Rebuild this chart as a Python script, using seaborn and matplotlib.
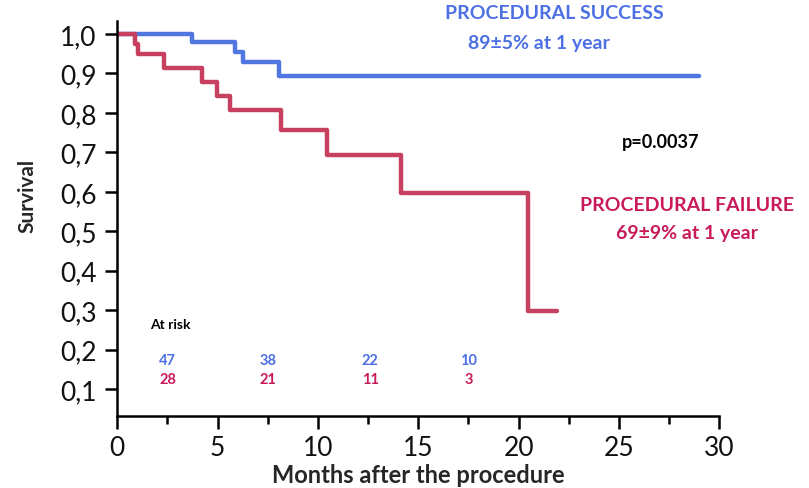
import matplotlib
matplotlib.use("Agg")
import matplotlib.pyplot as plt
import seaborn as sns
import pandas as pd
from matplotlib.ticker import MultipleLocator, FixedLocator

# Kaplan-Meier step curves (time in months, survival probability)
success_t = [0, 3.7, 5.86, 6.28, 8.06, 29.0]
success_s = [1.0, 0.979, 0.954, 0.928, 0.894, 0.894]

failure_t = [0, 0.88, 1.03, 2.35, 4.2, 4.95, 5.62, 8.16, 10.43, 14.13, 20.45, 21.9]
failure_s = [1.0, 0.975, 0.949, 0.915, 0.879, 0.842, 0.807, 0.756, 0.693, 0.596, 0.298, 0.298]

# Numbers at risk
risk_times = [2.5, 7.5, 12.6, 17.5]
risk_success = [47, 38, 22, 10]
risk_failure = [28, 21, 11, 3]

y_ticks = [0.1, 0.2, 0.3, 0.4, 0.5, 0.6, 0.7, 0.8, 0.9, 1.0]
y_tick_labels = ["0,1", "0,2", "0,3", "0,4", "0,5", "0,6", "0,7", "0,8", "0,9", "1,0"]
x_ticks = [0, 5, 10, 15, 20, 25, 30]

BLUE_LINE = "#5077e0"
BLUE_TEXT = "#4c70e4"
RED_LINE = "#c8405f"
RED_TEXT = "#c81a5a"

sns.set_theme(style="ticks")
plt.rcParams["font.family"] = ["Lato", "DejaVu Sans"]

df = pd.concat([
    pd.DataFrame({"month": success_t, "survival": success_s, "group": "success"}),
    pd.DataFrame({"month": failure_t, "survival": failure_s, "group": "failure"}),
])

fig = plt.figure(figsize=(8.09, 4.89), dpi=100)
ax = fig.add_axes([0.145, 0.148, 0.744, 0.807])

sns.lineplot(data=df, x="month", y="survival", hue="group",
             palette={"success": BLUE_LINE, "failure": RED_LINE},
             drawstyle="steps-post", estimator=None, linewidth=3.2,
             legend=False, ax=ax)

ax.set_xlim(0, 30)
ax.set_ylim(0.033, 1.033)
ax.xaxis.set_major_locator(FixedLocator(x_ticks))
ax.xaxis.set_minor_locator(MultipleLocator(2.5))
ax.set_yticks(y_ticks)
ax.set_yticklabels(y_tick_labels)

for side in ("top", "right"):
    ax.spines[side].set_visible(False)
for side in ("left", "bottom"):
    ax.spines[side].set_linewidth(1.8)
    ax.spines[side].set_color("black")

ax.tick_params(axis="both", which="major", length=9, width=1.8, color="black",
               labelsize=19, labelcolor="#111111")
ax.tick_params(axis="x", which="minor", length=6, width=1.8, color="black")
ax.tick_params(axis="x", pad=5)
ax.tick_params(axis="y", pad=6)

ax.set_xlabel("Months after the procedure", fontsize=17, fontweight="bold", labelpad=2)
ax.set_ylabel("Survival", fontsize=15, fontweight="bold", labelpad=14)
ax.yaxis.set_label_coords(-0.132, 0.56)

# Group annotations
ax.text(21.8, 1.054, "PROCEDURAL SUCCESS", color=BLUE_TEXT, fontsize=14,
        fontweight="bold", ha="center", va="center", clip_on=False)
ax.text(21.0, 0.978, "89±5% at 1 year", color=BLUE_TEXT, fontsize=14,
        fontweight="bold", ha="center", va="center")
ax.text(27.1, 0.728, "p=0.0037", color="black", fontsize=13,
        fontweight="bold", ha="center", va="center")
ax.text(28.4, 0.567, "PROCEDURAL FAILURE", color=RED_TEXT, fontsize=14,
        fontweight="bold", ha="center", va="center")
ax.text(28.4, 0.497, "69±9% at 1 year", color=RED_TEXT, fontsize=14,
        fontweight="bold", ha="center", va="center")

# At-risk table
ax.text(1.65, 0.265, "At risk", color="black", fontsize=10,
        fontweight="bold", ha="left", va="center")
for t, ns, nf in zip(risk_times, risk_success, risk_failure):
    ax.text(t, 0.173, str(ns), color=BLUE_TEXT, fontsize=10.5,
            fontweight="bold", ha="center", va="center")
    ax.text(t, 0.125, str(nf), color=RED_TEXT, fontsize=10.5,
            fontweight="bold", ha="center", va="center")

fig.savefig("out.png", dpi=100)
